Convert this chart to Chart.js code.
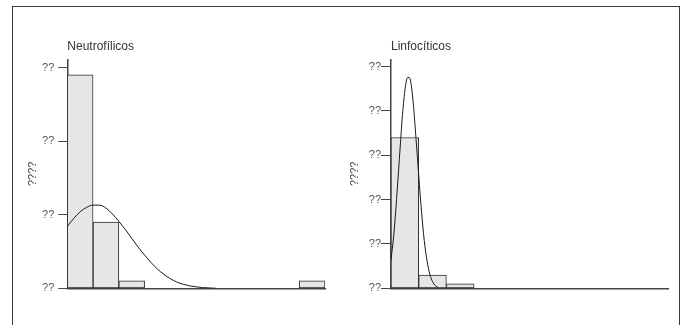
<!DOCTYPE html>
<html>
<head>
<meta charset="utf-8">
<script src="https://cdn.jsdelivr.net/npm/chart.js@4"></script>
<style>
  html, body { margin: 0; padding: 0; background: #fff; }
  body { width: 684px; height: 325px; position: relative; overflow: hidden; }
  #frame {
    position: absolute; left: 12px; top: 6px; width: 668px; height: 330px;
    border: 1.5px solid #3a3a3a; border-bottom: none; box-sizing: border-box;
  }
  canvas { position: absolute; top: 0; }
  #leftChart { left: 0; }
  #rightChart { left: 340px; }
</style>
</head>
<body>
<div id="frame"></div>
<canvas id="leftChart" width="340" height="325"></canvas>
<canvas id="rightChart" width="344" height="325"></canvas>
<script>
// Histogram bins (same 10 bins in both panels)
const binCenters = [0.5, 1.5, 2.5, 3.5, 4.5, 5.5, 6.5, 7.5, 8.5, 9.5];

// Neutrofílicos
const leftTitle = 'Neutrofílicos';
const leftCounts = [29, 9, 1, 0, 0, 0, 0, 0, 0, 1];
const leftCurveX = [0, 0.25, 0.5, 0.75, 1, 1.25, 1.5, 1.75, 2, 2.25, 2.5, 2.75, 3, 3.25, 3.5, 3.75, 4, 4.25, 4.5, 4.75, 5, 5.25, 5.5, 5.78];
const leftCurveY = [8.4, 9.5, 10.4, 11.0, 11.3, 11.3, 10.9, 10.1, 9.1, 8.0, 6.8, 5.6, 4.5, 3.5, 2.6, 1.9, 1.3, 0.85, 0.55, 0.33, 0.2, 0.1, 0.05, 0];
const leftTicks = [0, 10, 20, 30];
const leftTickLabels = ['??', '??', '??', '??'];

// Linfocíticos
const rightTitle = 'Linfocíticos';
const rightCounts = [34, 3, 1, 0, 0, 0, 0, 0, 0, 0];
const rightCurveX = [0, 0.1, 0.2, 0.3, 0.35, 0.4, 0.5, 0.6, 0.65, 0.7, 0.8, 0.9, 1.0, 1.1, 1.2, 1.3, 1.4, 1.5, 1.6, 1.7];
const rightCurveY = [6.4, 12, 20, 29, 33.5, 38, 44.5, 47.5, 47.5, 47, 42, 34, 25.5, 17.4, 10.8, 6.2, 3.2, 1.5, 0.6, 0.2];
const rightTicks = [0, 10, 20, 30, 40, 50];
const rightTickLabels = ['??', '??', '??', '??', '??', '??'];

const yTitle = '????';
const FONT = "'Liberation Sans', Arial, Helvetica, sans-serif";

Chart.defaults.font.family = FONT;

function makePanel(canvasId, cfg) {
    const bars = binCenters.map((x, i) => ({ x: x, y: cfg.counts[i] }));
    const curve = cfg.curveX.map((x, i) => ({ x: x, y: cfg.curveY[i] }));

    return new Chart(document.getElementById(canvasId), {
        type: 'bar',
        data: {
            datasets: [
                {
                    type: 'line',
                    data: curve,
                    borderColor: '#1a1a1a',
                    borderWidth: 1,
                    pointRadius: 0,
                    cubicInterpolationMode: 'monotone',
                    fill: false,
                    order: 0
                },
                {
                    type: 'bar',
                    data: bars,
                    backgroundColor: '#e6e6e6',
                    borderColor: '#2e2e2e',
                    borderWidth: 1,
                    borderSkipped: false,
                    barPercentage: 1,
                    categoryPercentage: 1,
                    grouped: false,
                    order: 1
                }
            ]
        },
        options: {
            responsive: false,
            animation: false,
            events: [],
            layout: { padding: cfg.padding },
            plugins: {
                legend: { display: false },
                tooltip: { enabled: false },
                title: {
                    display: true,
                    text: cfg.title,
                    align: 'start',
                    fullSize: false,
                    color: '#333',
                    font: { size: 12, weight: 'normal' },
                    padding: { top: 0, bottom: 6 }
                }
            },
            scales: {
                x: {
                    type: 'linear',
                    min: 0,
                    max: 10,
                    offset: false,
                    ticks: { display: false, stepSize: 1 },
                    grid: { display: false },
                    border: { display: true, color: '#444', width: 1.5 },
                    afterFit: s => { s.height = 0; }
                },
                y: {
                    min: 0,
                    max: cfg.yMax,
                    afterBuildTicks: s => { s.ticks = cfg.ticks.map(v => ({ value: v })); },
                    afterFit: s => { s.width = cfg.yWidth; },
                    ticks: {
                        padding: cfg.tickPad,
                        color: '#555',
                        font: { size: 11 },
                        callback: (v, i) => cfg.tickLabels[i]
                    },
                    grid: {
                        display: true,
                        drawOnChartArea: false,
                        drawTicks: true,
                        tickLength: cfg.tickLen,
                        tickColor: '#444',
                        lineWidth: 1
                    },
                    border: { display: true, color: '#444', width: 1.5 },
                    title: {
                        display: true,
                        text: yTitle,
                        color: '#444',
                        font: { size: 11 },
                        padding: { top: 4, bottom: 4 }
                    }
                }
            }
        }
    });
}

makePanel('leftChart', {
    title: leftTitle,
    counts: leftCounts,
    curveX: leftCurveX,
    curveY: leftCurveY,
    ticks: leftTicks,
    tickLabels: leftTickLabels,
    yMax: 31.1,
    yWidth: 45.3,
    tickPad: 4,
    tickLen: 9,
    padding: { left: 22, right: 15, top: 39, bottom: 36.7 }
});

makePanel('rightChart', {
    title: rightTitle,
    counts: rightCounts,
    curveX: rightCurveX,
    curveY: rightCurveY,
    ticks: rightTicks,
    tickLabels: rightTickLabels,
    yMax: 51.6,
    yWidth: 47,
    tickPad: 0,
    tickLen: 10,
    padding: { left: 4, right: 16, top: 39, bottom: 36.7 }
});
</script>
</body>
</html>
